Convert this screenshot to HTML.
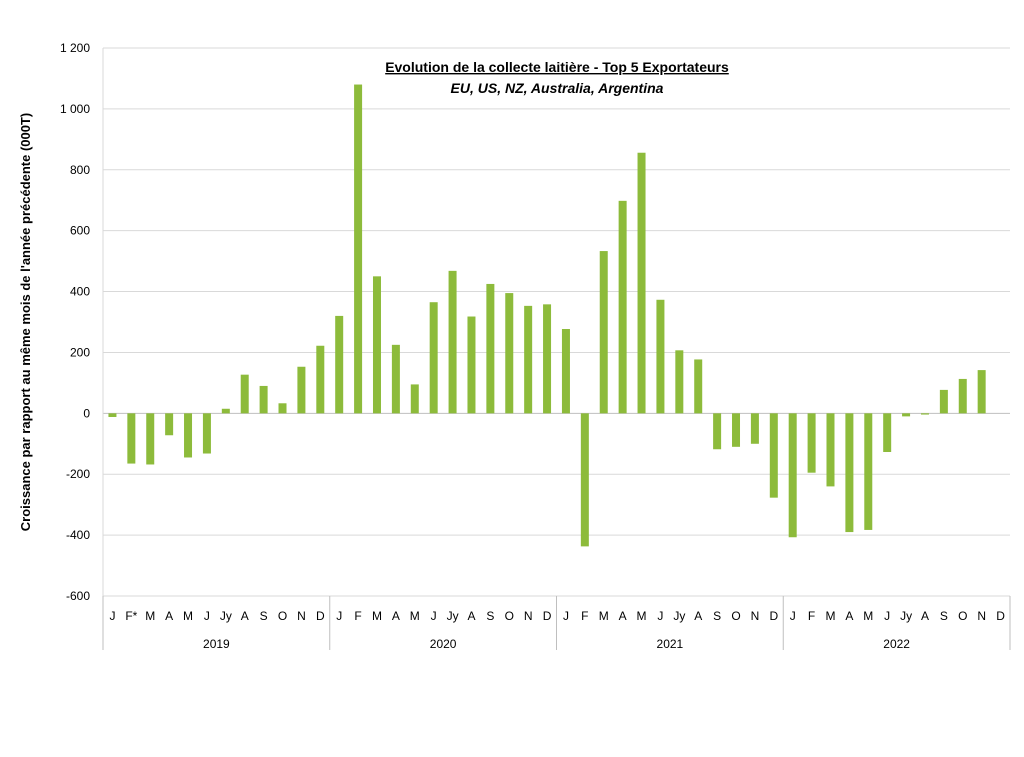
<!DOCTYPE html>
<html><head><meta charset="utf-8"><style>
body{margin:0;background:#fff}
svg{display:block;font-family:"Liberation Sans",Calibri,sans-serif}
</style></head><body>
<svg id="chart" width="1024" height="757" viewBox="0 0 1024 757">
<g id="grid"></g>
<g id="yt"></g>
<g id="bars"></g>
<g id="xa"></g>
<text x="557" y="72" text-anchor="middle" font-size="14" font-weight="bold" text-decoration="underline">Evolution de la collecte laitière - Top 5 Exportateurs</text>
<text x="557" y="93" text-anchor="middle" font-size="14" font-weight="bold" font-style="italic">EU, US, NZ, Australia, Argentina</text>
<text transform="translate(30,322) rotate(-90)" text-anchor="middle" font-size="13" font-weight="bold">Croissance par rapport au même mois de l'année précédente (000T)</text>
</svg>
<script>
const years=["2019","2020","2021","2022"];
const months=["J","F*","M","A","M","J","Jy","A","S","O","N","D","J","F","M","A","M","J","Jy","A","S","O","N","D","J","F","M","A","M","J","Jy","A","S","O","N","D","J","F","M","A","M","J","Jy","A","S","O","N","D"];
const values=[-12,-165,-168,-72,-145,-132,15,127,90,33,153,222,
320,1080,450,225,95,365,468,318,425,395,353,358,
277,-437,533,698,856,373,207,177,-118,-110,-100,-277,
-407,-195,-240,-390,-383,-127,-10,-4,77,113,142,0];
const yTicks=[-600,-400,-200,0,200,400,600,800,1000,1200];
const yTickLabels=["-600","-400","-200","0","200","400","600","800","1 000","1 200"];
const NS="http://www.w3.org/2000/svg";
const L=103,R=1010,T=48,B=596,ymin=-600,ymax=1200;
const y=v=>B-(v-ymin)/(ymax-ymin)*(B-T);
const step=(R-L)/values.length;
const x=i=>L+step*(i+0.5);
function mk(p,tag,a){const e=document.createElementNS(NS,tag);for(const k in a)e.setAttribute(k,a[k]);document.getElementById(p).appendChild(e);return e;}
yTicks.forEach((t,i)=>{
 const g=mk("grid","line",{x1:L,x2:R,y1:y(t),y2:y(t),stroke:t===0?"#bfbfbf":"#d9d9d9","stroke-width":1});
 
 
 const tx=mk("yt","text",{x:90,y:y(t)+4,"text-anchor":"end","font-size":12});
 tx.textContent=yTickLabels[i];
 
 
});
mk("grid","line",{x1:L,x2:L,y1:T,y2:B,stroke:"#d9d9d9"});
values.forEach((v,i)=>{
 const b=mk("bars","rect",{x:x(i)-4,width:8,y:Math.min(y(v),y(0)),height:Math.abs(y(v)-y(0)),fill:"#8dbb3b"});
 
 
 const t=mk("xa","text",{x:x(i),y:620,"text-anchor":"middle","font-size":12});
 t.textContent=months[i];
 
 
});
for(let k=0;k<=years.length;k++){
 const xx=L+k*12*step;
 const l=mk("xa","line",{x1:xx,x2:xx,y1:B,y2:650,stroke:"#bfbfbf"});
 
 
 if(k<years.length){
  const t=mk("xa","text",{x:xx+6*step,y:648,"text-anchor":"middle","font-size":12});
  t.textContent=years[k];
  
  
 }
}
</script>
</body></html>
